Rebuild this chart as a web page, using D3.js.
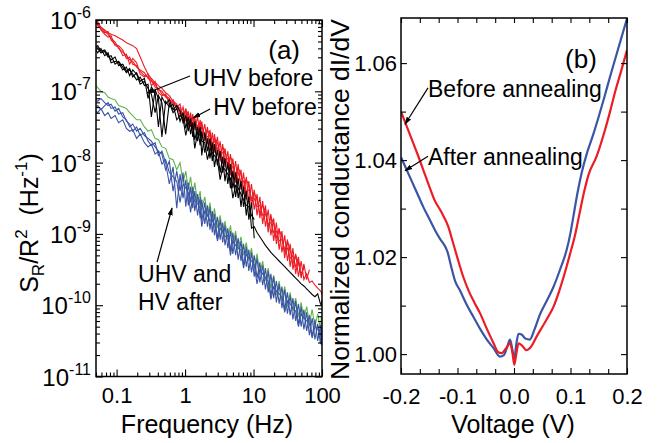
<!DOCTYPE html>
<html>
<head>
<meta charset="utf-8">
<script src="https://cdn.jsdelivr.net/npm/d3@7"></script>
<style>
body { margin: 0; background: #fff; }
svg text { font-family: "Liberation Sans", Arial, sans-serif; fill: #000; }
</style>
</head>
<body>
<svg id="chart" width="668" height="443"></svg>
<script>
// ---- panel (a): noise spectra, values are log10(S_R/R^2)
var freq = [0.05, 0.053, 0.059, 0.067, 0.075, 0.083, 0.095, 0.107, 0.123, 0.139,
  0.155, 0.172, 0.196, 0.221, 0.255, 0.288, 0.322, 0.365, 0.408, 0.459,
  0.52, 0.589, 0.668, 0.756, 0.845, 0.934, 1.024, 1.114, 1.204, 1.295,
  1.386, 1.523, 1.661, 1.753, 1.938, 2.124, 2.311, 2.498, 2.686, 2.97,
  3.255, 3.541, 3.827, 4.213, 4.6, 4.987, 5.474, 5.963, 6.553, 7.145,
  7.842, 8.537, 9.337, 10.24, 11.25, 12.37, 13.59, 14.93, 16.37, 17.92,
  19.68, 21.56, 23.65, 25.97, 28.52, 31.28, 34.27, 37.59, 41.25, 45.27,
  49.6, 54.4, 59.7, 65.5, 71.8, 78.9, 86.5, 94.9, 98, 100];

var hvBefore1 = [-6.00, -6.06, -6.10, -6.16, -6.20, -6.26, -6.31, -6.40, -6.45, -6.50,
  -6.56, -6.58, -6.66, -6.70, -6.74, -6.82, -6.86, -6.90, -6.98, -7.00,
  -7.08, -7.12, -7.16, -7.22, -7.18, -7.40, -7.24, -7.50, -7.30, -7.52,
  -7.36, -7.60, -7.40, -7.66, -7.46, -7.74, -7.54, -7.84, -7.60, -7.90,
  -7.70, -8.02, -7.80, -8.10, -7.88, -8.22, -7.98, -8.30, -8.10, -8.44,
  -8.20, -8.56, -8.30, -8.66, -8.44, -8.78, -8.54, -8.90, -8.66, -9.02,
  -8.78, -9.14, -8.92, -9.26, -9.02, -9.38, -9.14, -9.50, -9.28, -9.60,
  -9.38, -9.64, -9.56, -9.68, -9.66, -9.72, -9.76, -9.80, -9.82, -9.86];
var hvBefore2 = [-5.98, -6.04, -6.10, -6.14, -6.18, -6.20, -6.22, -6.25, -6.28, -6.32,
  -6.34, -6.36, -6.40, -6.52, -6.66, -6.76, -6.82, -6.88, -6.92, -6.96,
  -7.02, -7.06, -7.14, -7.18, -7.34, -7.22, -7.42, -7.28, -7.50, -7.32,
  -7.54, -7.36, -7.62, -7.42, -7.70, -7.50, -7.80, -7.58, -7.86, -7.64,
  -7.98, -7.74, -8.06, -7.84, -8.18, -7.94, -8.28, -8.02, -8.38, -8.14,
  -8.52, -8.26, -8.62, -8.38, -8.74, -8.48, -8.86, -8.60, -8.98, -8.72,
  -9.10, -8.84, -9.22, -8.96, -9.34, -9.08, -9.46, -9.20, -9.56, -9.32,
  -9.62, -9.42, -9.64, -9.50];
var hvBefore3 = [-6.04, -6.02, -6.14, -6.20, -6.24, -6.22, -6.36, -6.38, -6.50, -6.48,
  -6.62, -6.54, -6.60, -6.76, -6.80, -6.76, -6.92, -6.86, -7.02, -7.06,
  -7.04, -7.18, -7.12, -7.24, -7.28, -7.32, -7.30, -7.40, -7.36, -7.46,
  -7.44, -7.48, -7.56, -7.50, -7.60, -7.64, -7.62, -7.74, -7.70, -7.80,
  -7.84, -7.86, -7.96, -7.94, -8.06, -8.06, -8.16, -8.14, -8.28, -8.26,
  -8.40, -8.38, -8.50, -8.50, -8.62, -8.60, -8.74, -8.72, -8.86, -8.84,
  -8.98, -8.96, -9.10, -9.08, -9.22, -9.20, -9.34, -9.30, -9.46, -9.40,
  -9.56, -9.48];
var hvBefore4 = [-6.02, -6.08, -6.12, -6.18, -6.16, -6.28, -6.34, -6.36, -6.42, -6.54,
  -6.52, -6.62, -6.64, -6.72, -6.78, -6.80, -6.84, -6.94, -6.96, -7.04,
  -7.06, -7.10, -7.20, -7.20, -7.24, -7.36, -7.26, -7.32, -7.46, -7.38,
  -7.40, -7.54, -7.46, -7.48, -7.64, -7.56, -7.58, -7.76, -7.66, -7.72,
  -7.90, -7.78, -7.84, -8.04, -7.92, -8.00, -8.20, -8.08, -8.16, -8.36,
  -8.24, -8.32, -8.54, -8.42, -8.52, -8.72, -8.60, -8.68, -8.90, -8.76,
  -8.86, -9.06, -8.94, -9.04, -9.26, -9.10, -9.22, -9.42, -9.30, -9.40,
  -9.58, -9.46];

var uhvBefore1 = [-6.38, -6.36, -6.44, -6.42, -6.50, -6.56, -6.52, -6.64, -6.62, -6.72,
  -6.68, -6.80, -6.74, -6.86, -6.82, -7.10, -6.94, -7.02, -7.50, -7.08,
  -7.18, -7.12, -7.26, -7.20, -7.28, -7.44, -7.34, -7.56, -7.38, -7.64,
  -7.42, -7.70, -7.50, -7.90, -7.58, -7.84, -7.66, -7.98, -7.74, -8.04,
  -7.84, -8.14, -7.94, -8.30, -8.02, -8.36, -8.14, -8.50, -8.26, -8.62,
  -8.40, -8.80, -8.56, -9.06];
var uhvBefore2 = [-6.42, -6.46, -6.40, -6.50, -6.46, -6.60, -6.58, -6.60, -6.70, -6.66,
  -6.78, -6.70, -6.76, -6.90, -6.86, -6.96, -7.04, -7.30, -7.06, -7.16,
  -7.60, -7.16, -7.30, -7.24, -7.42, -7.30, -7.52, -7.36, -7.60, -7.44,
  -7.68, -7.50, -7.76, -7.56, -7.86, -7.66, -7.94, -7.72, -8.06, -7.82,
  -8.14, -7.92, -8.26, -8.00, -8.36, -8.12, -8.48, -8.22, -8.62, -8.34,
  -8.74, -8.48, -8.92, -8.90, -8.98, -9.04, -9.10, -9.16, -9.21, -9.26,
  -9.30, -9.34, -9.38, -9.42, -9.46, -9.50, -9.54, -9.58, -9.62, -9.66,
  -9.70, -9.73, -9.77, -9.81, -9.85, -9.88, -9.84, -9.98, -10.00, -9.93];
var uhvBefore3 = [-6.36, -6.40, -6.46, -6.44, -6.52, -6.50, -6.62, -6.58, -6.66, -6.74,
  -6.70, -6.76, -6.84, -6.80, -6.92, -6.90, -7.36, -6.98, -7.10, -7.64,
  -7.14, -7.22, -7.18, -7.40, -7.34, -7.38, -7.62, -7.44, -7.48, -7.52,
  -7.80, -7.58, -7.62, -7.70, -7.72, -7.96, -7.80, -7.86, -7.90, -7.96,
  -8.24, -8.06, -8.10, -8.16, -8.22, -8.50, -8.32, -8.36, -8.44, -8.52,
  -8.60, -8.62, -8.74, -8.80];

var hvAfter = [-6.92, -6.95, -7.00, -7.02, -7.08, -7.10, -7.12, -7.20, -7.22, -7.24,
  -7.30, -7.34, -7.40, -7.40, -7.50, -7.56, -7.54, -7.66, -7.68, -7.78,
  -7.80, -7.94, -7.96, -8.10, -8.00, -8.28, -8.12, -8.38, -8.20, -8.46,
  -8.28, -8.56, -8.40, -8.66, -8.48, -8.76, -8.56, -8.84, -8.64, -8.92,
  -8.74, -9.00, -8.82, -9.08, -8.88, -9.14, -8.96, -9.22, -9.04, -9.30,
  -9.12, -9.38, -9.20, -9.48, -9.28, -9.56, -9.38, -9.66, -9.48, -9.76,
  -9.58, -9.86, -9.66, -9.94, -9.74, -10.02, -9.82, -10.08, -9.90, -10.16,
  -9.96, -10.20, -10.02, -10.26, -10.06, -10.30, -10.12, -10.34, -10.16, -10.30];

var uhvAfter1 = [-7.12, -7.14, -7.10, -7.16, -7.20, -7.18, -7.28, -7.24, -7.36, -7.40,
  -7.50, -7.46, -7.56, -7.52, -7.62, -7.66, -7.70, -7.78, -7.84, -7.88,
  -8.10, -7.98, -8.40, -8.12, -8.40, -8.14, -8.62, -8.28, -8.56, -8.34,
  -8.68, -8.44, -8.78, -8.52, -8.86, -8.60, -8.94, -8.68, -9.02, -8.76,
  -9.08, -8.84, -9.16, -8.92, -9.24, -8.98, -9.30, -9.06, -9.38, -9.14,
  -9.46, -9.22, -9.54, -9.30, -9.62, -9.40, -9.72, -9.48, -9.82, -9.56,
  -9.90, -9.66, -9.98, -9.74, -10.06, -9.82, -10.14, -9.90, -10.22, -9.98,
  -10.30, -10.06, -10.36, -10.14, -10.44, -10.20, -10.50, -10.28, -10.56, -10.40];
var uhvAfter2 = [-7.22, -7.20, -7.26, -7.20, -7.16, -7.24, -7.22, -7.32, -7.30, -7.42,
  -7.46, -7.56, -7.50, -7.62, -7.58, -7.70, -7.76, -7.72, -7.90, -7.84,
  -8.00, -8.30, -8.06, -8.64, -8.16, -8.50, -8.24, -8.60, -8.34, -8.64,
  -8.40, -8.74, -8.48, -8.82, -8.56, -8.90, -8.62, -8.98, -8.72, -9.06,
  -8.80, -9.12, -8.88, -9.20, -8.96, -9.28, -9.02, -9.36, -9.10, -9.44,
  -9.18, -9.52, -9.26, -9.60, -9.34, -9.68, -9.44, -9.78, -9.52, -9.88,
  -9.60, -9.96, -9.70, -10.04, -9.78, -10.12, -9.86, -10.20, -9.94, -10.28,
  -10.02, -10.34, -10.10, -10.42, -10.18, -10.48, -10.26, -10.54, -10.32, -10.50];
var uhvAfter3 = [-7.28, -7.30, -7.24, -7.34, -7.30, -7.38, -7.34, -7.44, -7.40, -7.52,
  -7.56, -7.54, -7.66, -7.60, -7.72, -7.78, -7.74, -7.88, -7.84, -8.02,
  -7.96, -8.14, -8.20, -8.26, -8.56, -8.30, -8.36, -8.42, -8.70, -8.46,
  -8.54, -8.58, -8.64, -8.90, -8.68, -8.74, -8.82, -8.80, -8.86, -9.10,
  -8.92, -8.96, -9.04, -9.02, -9.30, -9.10, -9.16, -9.20, -9.22, -9.48,
  -9.28, -9.34, -9.38, -9.44, -9.70, -9.50, -9.56, -9.62, -9.66, -9.92,
  -9.74, -9.80, -9.84, -9.88, -10.10, -9.94, -9.98, -10.04, -10.08, -10.30,
  -10.12, -10.18, -10.22, -10.26, -10.46, -10.30, -10.34, -10.40, -10.44, -10.48];

var freqMajor = [0.1, 1, 10, 100];
var freqLabels = ["0.1", "1", "10", "100"];
var freqMinor = [0.05, 0.06, 0.07, 0.08, 0.09, 0.2, 0.3, 0.4, 0.5, 0.6, 0.7, 0.8, 0.9,
  2, 3, 4, 5, 6, 7, 8, 9, 20, 30, 40, 50, 60, 70, 80, 90];
var specMajor = [1e-6, 1e-7, 1e-8, 1e-9, 1e-10, 1e-11];
var specExpLabels = ["-6", "-7", "-8", "-9", "-10", "-11"];
var specMinorMant = [2, 3, 4, 5, 6, 7, 8, 9];

// ---- panel (b): normalized conductance
var voltAfter = [-0.2, -0.19, -0.18, -0.17, -0.16, -0.15, -0.14, -0.13, -0.125, -0.118,
  -0.11, -0.104, -0.096, -0.085, -0.072, -0.06, -0.048, -0.036, -0.025, -0.018,
  -0.012, -0.007, -0.003, 0.0005, 0.004, 0.008, 0.014, 0.02, 0.028, 0.036,
  0.046, 0.058, 0.07, 0.082, 0.093, 0.1, 0.105, 0.112, 0.12, 0.129,
  0.14, 0.15, 0.16, 0.17, 0.18, 0.19, 0.2];
var condAfter = [1.0406, 1.0380, 1.0354, 1.0328, 1.0302, 1.0279, 1.0256, 1.0236, 1.0228, 1.0212,
  1.0175, 1.0150, 1.0132, 1.0105, 1.0077, 1.0052, 1.0030, 1.0012, 0.9995, 0.9998,
  1.0015, 1.0030, 1.0010, 0.9990, 1.0020, 1.0042, 1.0040, 1.0032, 1.0030, 1.0050,
  1.0082, 1.0110, 1.0139, 1.0176, 1.0214, 1.0250, 1.0283, 1.0330, 1.0375, 1.0414,
  1.0452, 1.0490, 1.0530, 1.0572, 1.0612, 1.0652, 1.0692];
var voltBefore = [-0.2, -0.19, -0.18, -0.17, -0.16, -0.15, -0.14, -0.13, -0.125, -0.116,
  -0.108, -0.1, -0.09, -0.08, -0.07, -0.06, -0.048, -0.036, -0.028, -0.022,
  -0.014, -0.007, -0.003, 0.0005, 0.004, 0.008, 0.014, 0.022, 0.03, 0.04,
  0.05, 0.06, 0.07, 0.08, 0.093, 0.1, 0.108, 0.116, 0.124, 0.132,
  0.146, 0.16, 0.17, 0.18, 0.19, 0.2];
var condBefore = [1.0500, 1.0470, 1.0440, 1.0410, 1.0378, 1.0346, 1.0316, 1.0296, 1.0285, 1.0262,
  1.0230, 1.0198, 1.0160, 1.0130, 1.0106, 1.0084, 1.0052, 1.0022, 1.0004, 1.0002,
  1.0012, 1.0022, 1.0005, 0.9978, 1.0000, 1.0022, 1.0018, 1.0008, 1.0015, 1.0036,
  1.0056, 1.0076, 1.0098, 1.0130, 1.0180, 1.0210, 1.0245, 1.0290, 1.0334, 1.0370,
  1.0407, 1.0458, 1.0500, 1.0545, 1.0585, 1.0627];

var voltMajor = [-0.2, -0.1, 0, 0.1, 0.2];
var voltLabels = ["-0.2", "-0.1", "0.0", "0.1", "0.2"];
var voltMinor = [-0.1667, -0.1333, -0.0667, -0.0333, 0.0333, 0.0667, 0.1333, 0.1667];
var condMajor = [1.00, 1.02, 1.04, 1.06];
var condLabels = ["1.00", "1.02", "1.04", "1.06"];
var condMinor = [1.01, 1.03, 1.05];

var RED = "#ec1c24", BLUE = "#3a55a5", GREEN = "#5cb547", BLACK = "#000000";

var svg = d3.select("#chart");
var defs = svg.append("defs");
defs.append("marker")
    .attr("id", "ah")
    .attr("viewBox", "0 0 10 10")
    .attr("refX", 9)
    .attr("refY", 5)
    .attr("markerUnits", "userSpaceOnUse")
    .attr("markerWidth", 8)
    .attr("markerHeight", 8)
    .attr("orient", "auto")
    .append("path")
    .attr("d", "M0,1.8L10,5L0,8.2Z")
    .style("fill", "#000");

// ================= panel (a)
var xA = d3.scaleLog().domain([0.05, 100]).range([96, 322]);
var yA = d3.scaleLog().domain([1e-11, 1e-6]).range([376.5, 20]);

defs.append("clipPath").attr("id", "clipA")
    .append("rect").attr("x", 96).attr("y", 20).attr("width", 226).attr("height", 356.5);

var lineA = d3.line()
    .x(function(d) { return xA(d[0]); })
    .y(function(d) { return yA(d[1]); });

var spectra = [
    [hvBefore1, RED], [hvBefore2, RED], [hvBefore3, RED], [hvBefore4, RED],
    [uhvBefore1, BLACK], [uhvBefore2, BLACK], [uhvBefore3, BLACK],
    [hvAfter, GREEN],
    [uhvAfter1, BLUE], [uhvAfter2, BLUE], [uhvAfter3, BLUE]
];
spectra.forEach(function(s) {
    var pts = s[0].map(function(e, i) { return [freq[i], Math.pow(10, e)]; });
    svg.append("path")
        .attr("d", lineA(pts))
        .attr("clip-path", "url(#clipA)")
        .style("fill", "none")
        .style("stroke", s[1])
        .style("stroke-width", 1.1);
});

var specMinor = [];
specMajor.forEach(function(dec) {
    if (dec < 1e-6) specMinorMant.forEach(function(m) { specMinor.push(dec * m); });
});

function styleAxis(g, size) {
    g.select(".domain").remove();
    g.attr("font-family", null).attr("font-size", null);
    g.selectAll("line").style("stroke", "#000").style("stroke-width", 1.1);
    g.selectAll("text").style("font-size", size + "px").attr("fill", "#000");
}

svg.append("g").attr("transform", "translate(0,376.5)")
    .call(d3.axisBottom(xA).tickValues(freqMajor).tickSize(-7).tickPadding(11)
        .tickFormat(function(d, i) { return freqLabels[i]; }))
    .call(styleAxis, 22);
svg.append("g").attr("transform", "translate(0,376.5)")
    .call(d3.axisBottom(xA).tickValues(freqMinor).tickSize(-4).tickFormat(""))
    .call(styleAxis, 22);
svg.append("g").attr("transform", "translate(0,20)")
    .call(d3.axisTop(xA).tickValues(freqMajor).tickSize(-7).tickFormat(""))
    .call(styleAxis, 22);
svg.append("g").attr("transform", "translate(0,20)")
    .call(d3.axisTop(xA).tickValues(freqMinor).tickSize(-4).tickFormat(""))
    .call(styleAxis, 22);
svg.append("g").attr("transform", "translate(96,0)")
    .call(d3.axisLeft(yA).tickValues(specMajor).tickSize(-7).tickFormat(""))
    .call(styleAxis, 22);
svg.append("g").attr("transform", "translate(96,0)")
    .call(d3.axisLeft(yA).tickValues(specMinor).tickSize(-4).tickFormat(""))
    .call(styleAxis, 22);
svg.append("g").attr("transform", "translate(322,0)")
    .call(d3.axisRight(yA).tickValues(specMajor).tickSize(-7).tickFormat(""))
    .call(styleAxis, 22);
svg.append("g").attr("transform", "translate(322,0)")
    .call(d3.axisRight(yA).tickValues(specMinor).tickSize(-4).tickFormat(""))
    .call(styleAxis, 22);

specMajor.forEach(function(v, i) {
    var t = svg.append("text")
        .attr("x", 91)
        .attr("y", yA(v) + 9)
        .attr("text-anchor", "end")
        .style("font-size", "24px");
    t.append("tspan").text("10");
    t.append("tspan").attr("dy", -11).style("font-size", "16px").text(specExpLabels[i]);
});

svg.append("rect").attr("x", 96).attr("y", 20).attr("width", 226).attr("height", 356.5)
    .style("fill", "none").style("stroke", "#000").style("stroke-width", 1.5);

var ylA = svg.append("text")
    .attr("transform", "translate(38,223) rotate(-90)")
    .attr("text-anchor", "middle")
    .style("font-size", "25px");
ylA.append("tspan").text("S");
ylA.append("tspan").attr("dy", 6).style("font-size", "17px").text("R");
ylA.append("tspan").attr("dy", -6).text("/R");
ylA.append("tspan").attr("dy", -11).style("font-size", "17px").text("2");
ylA.append("tspan").attr("dy", 11).text("\u00a0\u00a0(Hz");
ylA.append("tspan").attr("dy", -11).style("font-size", "17px").text("-1");
ylA.append("tspan").attr("dy", 11).text(")");

svg.append("text").attr("x", 207).attr("y", 433).attr("text-anchor", "middle")
    .style("font-size", "25px").text("Frequency (Hz)");

// annotations of (a), in data units
var notesA = [
    { text: "(a)", f: 16.4, s: -6.547, size: 26 },
    { text: "UHV before", f: 1.31, s: -6.926, size: 23 },
    { text: "HV before", f: 2.57, s: -7.332, size: 23 },
    { text: "UHV and", f: 0.2055, s: -9.675, size: 23 },
    { text: "HV after", f: 0.2055, s: -10.067, size: 23 }
];
var arrowsA = [
    { f1: 1.18, s1: -6.785, f2: 0.278, s2: -7.024 },
    { f1: 2.32, s1: -7.248, f2: 1.31, s2: -7.374 },
    { f1: 0.39, s1: -9.394, f2: 0.645, s2: -8.637 }
];
notesA.forEach(function(n) {
    svg.append("text").attr("x", xA(n.f)).attr("y", yA(Math.pow(10, n.s)))
        .style("font-size", n.size + "px").text(n.text);
});
arrowsA.forEach(function(a) {
    svg.append("line")
        .attr("x1", xA(a.f1)).attr("y1", yA(Math.pow(10, a.s1)))
        .attr("x2", xA(a.f2)).attr("y2", yA(Math.pow(10, a.s2)))
        .attr("marker-end", "url(#ah)")
        .style("stroke", "#000").style("stroke-width", 1.2);
});

// ================= panel (b)
var xB = d3.scaleLinear().domain([-0.2, 0.2]).range([401, 627]);
var yB = d3.scaleLinear().domain([0.9959, 1.0693]).range([374, 18]);

defs.append("clipPath").attr("id", "clipB")
    .append("rect").attr("x", 401).attr("y", 18).attr("width", 226).attr("height", 356);

var lineB = d3.line()
    .curve(d3.curveMonotoneX)
    .x(function(d) { return xB(d[0]); })
    .y(function(d) { return yB(d[1]); });

[[voltAfter, condAfter, BLUE], [voltBefore, condBefore, RED]].forEach(function(s) {
    var pts = s[0].map(function(v, i) { return [v, s[1][i]]; });
    svg.append("path")
        .attr("d", lineB(pts))
        .attr("clip-path", "url(#clipB)")
        .style("fill", "none")
        .style("stroke", s[2])
        .style("stroke-width", 2.2)
        .style("stroke-linejoin", "round");
});

svg.append("g").attr("transform", "translate(0,374)")
    .call(d3.axisBottom(xB).tickValues(voltMajor).tickSize(-6).tickPadding(14)
        .tickFormat(function(d, i) { return voltLabels[i]; }))
    .call(styleAxis, 22);
svg.append("g").attr("transform", "translate(0,374)")
    .call(d3.axisBottom(xB).tickValues(voltMinor).tickSize(-5).tickFormat(""))
    .call(styleAxis, 22);
svg.append("g").attr("transform", "translate(0,18)")
    .call(d3.axisTop(xB).tickValues(voltMajor.concat(voltMinor)).tickSize(-5).tickFormat(""))
    .call(styleAxis, 22);
svg.append("g").attr("transform", "translate(401,0)")
    .call(d3.axisLeft(yB).tickValues(condMajor).tickSize(-6).tickPadding(4)
        .tickFormat(function(d, i) { return condLabels[i]; }))
    .call(styleAxis, 22);
svg.append("g").attr("transform", "translate(401,0)")
    .call(d3.axisLeft(yB).tickValues(condMinor).tickSize(-5).tickFormat(""))
    .call(styleAxis, 22);
svg.append("g").attr("transform", "translate(627,0)")
    .call(d3.axisRight(yB).tickValues(condMajor.concat(condMinor)).tickSize(-6).tickFormat(""))
    .call(styleAxis, 22);

svg.append("rect").attr("x", 401).attr("y", 18).attr("width", 226).attr("height", 356)
    .style("fill", "none").style("stroke", "#000").style("stroke-width", 1.5);

svg.append("text").attr("transform", "translate(349,380) rotate(-90)")
    .style("font-size", "26.5px").text("Normalized conductance dI/dV");
svg.append("text").attr("x", 513).attr("y", 433).attr("text-anchor", "middle")
    .style("font-size", "25px").text("Voltage (V)");

var notesB = [
    { text: "(b)", v: 0.0903, g: 1.0590, size: 26 },
    { text: "Before annealing", v: -0.1522, g: 1.0530, size: 23 },
    { text: "After annealing", v: -0.1522, g: 1.0390, size: 23 }
];
var arrowsB = [
    { v1: -0.1522, g1: 1.0549, v2: -0.1929, g2: 1.0474 },
    { v1: -0.1522, g1: 1.0408, v2: -0.1929, g2: 1.0378 }
];
notesB.forEach(function(n) {
    svg.append("text").attr("x", xB(n.v)).attr("y", yB(n.g))
        .style("font-size", n.size + "px").text(n.text);
});
arrowsB.forEach(function(a) {
    svg.append("line")
        .attr("x1", xB(a.v1)).attr("y1", yB(a.g1))
        .attr("x2", xB(a.v2)).attr("y2", yB(a.g2))
        .attr("marker-end", "url(#ah)")
        .style("stroke", "#000").style("stroke-width", 1.2);
});
</script>
</body>
</html>
